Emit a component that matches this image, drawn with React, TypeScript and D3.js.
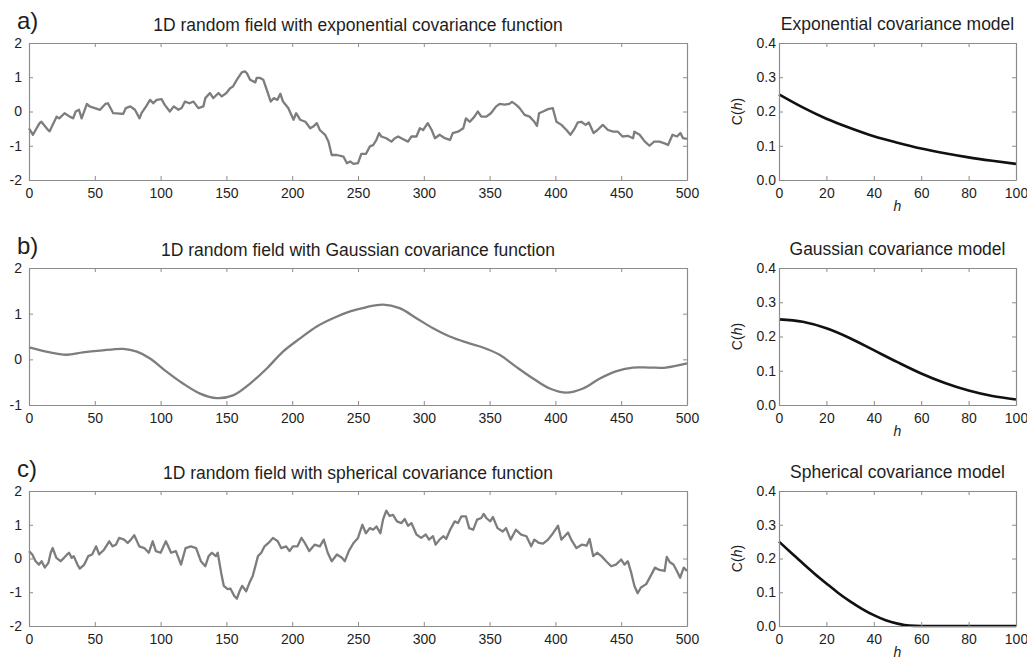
import * as d3 from 'd3';
import React, { useRef, useEffect } from 'react';

// 1D random fields as [x, value]
const expField: [number, number][] = [
  [0, -0.49], [3, -0.68], [8, -0.34], [9.4, -0.3], [14.5, -0.54], [15.7, -0.58], [18, -0.39], [21, -0.15],
  [23, -0.2], [27, -0.05], [31, -0.15], [33.5, -0.2], [35.5, 0], [38, 0.05], [40, -0.2], [44, 0.22],
  [46, 0.15], [50, 0.1], [54, 0.05], [58, 0.22], [60, 0.24], [64, -0.05], [71.5, -0.07], [73.6, 0.1],
  [77, 0.15], [80.5, 0.05], [84, -0.2], [85.5, -0.05], [89, 0.15], [92, 0.34], [94.4, 0.24], [97, 0.34],
  [100.8, 0.36], [103, 0.2], [107, 0], [110, 0.15], [113.5, 0.05], [116, 0.1], [118.5, 0.29], [122, 0.24],
  [125, 0.29], [128.7, 0.1], [132.5, 0.15], [134, 0.39], [137.5, 0.54], [140, 0.39], [144, 0.54], [146.5, 0.44],
  [150, 0.54], [152.8, 0.68], [155, 0.73], [158, 0.93], [161.7, 1.14], [164, 1.17], [165.5, 1.12], [168, 0.93],
  [172, 0.85], [173, 0.98], [175.6, 0.98], [178, 0.93], [180.7, 0.63], [183.7, 0.29], [186, 0.39], [188.8, 0.34],
  [191, 0.52], [193, 0.29], [197, 0.1], [201, -0.24], [203, -0.05], [206, -0.24], [210, -0.3], [213.7, -0.49],
  [216, -0.44], [218.7, -0.34], [221, -0.54], [225, -0.68], [227.6, -0.88], [230, -1.27], [234, -1.27], [239, -1.32],
  [241.6, -1.51], [244, -1.46], [246.7, -1.53], [250, -1.51], [252.5, -1.24], [256, -1.24], [259, -1.02], [261.5, -0.98],
  [264, -0.83], [266, -0.63], [267.7, -0.73], [271.5, -0.78], [275.4, -0.88], [278, -0.78], [280.5, -0.73], [284, -0.8],
  [288, -0.88], [290.6, -0.73], [294.4, -0.73], [297, -0.49], [299.5, -0.54], [303, -0.34], [306, -0.54], [308.5, -0.78],
  [312, -0.68], [316, -0.78], [320, -0.83], [322, -0.63], [326, -0.59], [330, -0.49], [332, -0.2], [335, -0.3],
  [338.5, -0.15], [341, 0], [343.7, -0.15], [347.5, -0.15], [351, -0.05], [355, 0.15], [357.6, 0.22], [361.4, 0.2],
  [365, 0.22], [367, 0.28], [370, 0.2], [372.8, 0.1], [376.6, -0.1], [380.4, -0.15], [384, -0.3], [386, -0.42],
  [387.6, -0.05], [390.6, 0], [394.4, 0.07], [398, 0.1], [400.8, -0.3], [404.6, -0.39], [408.4, -0.54], [411.4, -0.68],
  [414.7, -0.49], [417, -0.32], [419.7, -0.3], [423, -0.39], [425.4, -0.32], [429, -0.63], [432, -0.54], [436, -0.39],
  [440, -0.54], [444, -0.59], [447.5, -0.59], [451, -0.73], [455, -0.71], [459, -0.78], [460, -0.59], [464, -0.68],
  [468, -0.88], [471.5, -1.0], [475, -0.88], [479, -0.88], [483, -0.93], [485.6, -0.98], [489, -0.68], [492.4, -0.73],
  [495, -0.63], [497, -0.78], [500, -0.8],
];

const gaussField: [number, number][] = [
  [0, 0.26], [13, 0.17], [28.4, 0.1], [41, 0.15], [54, 0.19], [71.6, 0.23], [82, 0.17], [92, 0.02],
  [104.5, -0.27], [117, -0.53], [130, -0.75], [142.6, -0.85], [155, -0.79], [168, -0.53], [180.7, -0.2], [193, 0.17],
  [206, 0.46], [218.7, 0.72], [231, 0.9], [244, 1.05], [256, 1.14], [269, 1.2], [281.6, 1.12], [294.4, 0.9],
  [307, 0.68], [319.7, 0.5], [332.4, 0.37], [345, 0.26], [357.6, 0.1], [370, -0.16], [383, -0.42], [395.7, -0.64],
  [408.4, -0.73], [421, -0.64], [433.8, -0.42], [446.5, -0.26], [459, -0.18], [471.5, -0.18], [484, -0.18], [500, -0.09],
];

const sphField: [number, number][] = [
  [0, 0.22], [2.5, 0.12], [5, -0.08], [7.6, -0.18], [9.6, -0.08], [12, -0.27], [14.7, -0.13], [16.5, 0.17],
  [18, 0.31], [20.8, 0.02], [24, -0.08], [26.6, 0.02], [29, 0.12], [30.4, 0.17], [32.5, 0.02], [34, 0.07],
  [36.8, -0.18], [38.6, -0.3], [42, -0.18], [45, 0.07], [48, 0.12], [51, 0.36], [53.3, 0.12], [57, 0.26],
  [61, 0.51], [63.5, 0.36], [66, 0.41], [68.5, 0.61], [72.3, 0.56], [75, 0.46], [77.4, 0.56], [80, 0.69],
  [83.8, 0.36], [87.6, 0.31], [91, 0.17], [94, 0.51], [96.4, 0.22], [100, 0.17], [104, 0.51], [108, 0.17],
  [111.6, 0.22], [115.5, -0.18], [119, 0.31], [123, 0.36], [127, 0.31], [130.6, -0.08], [134, -0.23], [136.5, 0.07],
  [139, 0.17], [142, 0.07], [143.4, 0.17], [146, -0.42], [148, -0.81], [151, -0.91], [153, -0.89], [156, -1.11],
  [158, -1.19], [160, -0.97], [162, -0.81], [165, -0.97], [167.5, -0.72], [170, -0.52], [174, 0.07], [176.5, 0.17],
  [179, 0.36], [182, 0.46], [185.4, 0.61], [189, 0.51], [191.6, 0.31], [195.4, 0.36], [198, 0.22], [200.5, 0.36],
  [204, 0.36], [207, 0.61], [209.6, 0.46], [213, 0.22], [217, 0.41], [221, 0.36], [224, 0.56], [227, 0.17],
  [230, -0.08], [234, 0.12], [237.8, 0.02], [240, -0.08], [243, 0.22], [246.6, 0.46], [250, 0.61], [253.3, 1.0],
  [256, 0.75], [259, 0.9], [261.5, 0.85], [264, 0.95], [267, 0.75], [269, 1.15], [271.5, 1.42], [274, 1.26],
  [276.6, 1.29], [279.6, 1.1], [283, 1.05], [285.5, 1.17], [288, 0.97], [290.6, 1.05], [294.4, 0.71], [298, 0.61],
  [301.5, 0.71], [304, 0.56], [307, 0.66], [309, 0.41], [312, 0.56], [315, 0.66], [317, 0.58], [320, 0.85],
  [323.5, 1.1], [326, 1.05], [328.6, 1.25], [332, 1.25], [334.5, 0.9], [337.5, 0.85], [340.5, 1.15], [343.7, 1.2],
  [345.5, 1.32], [347.5, 1.2], [350.5, 1.1], [352.5, 1.23], [356, 0.9], [360, 0.8], [362.5, 0.9], [366, 0.56],
  [370, 0.85], [374, 0.71], [378, 0.66], [381.6, 0.36], [384, 0.56], [387.6, 0.46], [390.6, 0.44], [394.4, 0.56],
  [398.2, 0.75], [402, 0.97], [404.5, 0.56], [407, 0.66], [409.6, 0.77], [412, 0.56], [416, 0.31], [420, 0.41],
  [423.7, 0.38], [426, 0.58], [428.7, 0.07], [431.7, 0.17], [435, 0.07], [438.6, -0.08], [442.4, -0.23], [446, -0.18],
  [450, -0.03], [452.5, -0.18], [455, -0.08], [457.6, -0.42], [460, -0.81], [462.5, -1.03], [465, -0.86], [469, -0.76],
  [473, -0.47], [475.6, -0.27], [479, -0.34], [483, -0.37], [484.6, 0.05], [487, -0.11], [489.7, -0.18], [492.3, -0.37],
  [494.8, -0.57], [497.5, -0.27], [500, -0.37],
];

const fieldTicksX = [0, 50, 100, 150, 200, 250, 300, 350, 400, 450, 500];
const fieldTicksY = [-2, -1, 0, 1, 2];
const gaussFieldTicksY = [-1, 0, 1, 2];

// covariance models C(h)
const lagH = [0, 10, 20, 30, 40, 50, 60, 70, 80, 90, 100];
const expCov = [0.25, 0.212, 0.179, 0.152, 0.128, 0.109, 0.092, 0.078, 0.066, 0.056, 0.047];
const gaussCov = [0.25, 0.243, 0.224, 0.195, 0.16, 0.125, 0.092, 0.064, 0.042, 0.026, 0.016];
const sphLagH = [0, 5, 10, 15, 20, 25, 30, 35, 40, 45, 50, 55, 60, 70, 80, 90, 100];
const sphCov = [0.25, 0.218, 0.186, 0.155, 0.126, 0.098, 0.073, 0.051, 0.032, 0.017, 0.007, 0.001, 0, 0, 0, 0, 0];

const covTicksX = [0, 20, 40, 60, 80, 100];
const covTicksY = [0, 0.1, 0.2, 0.3, 0.4];

const panelLabels = ['a)', 'b)', 'c)'];
const fieldTitles = [
  '1D random field with exponential covariance function',
  '1D random field with Gaussian covariance function',
  '1D random field with spherical covariance function',
];
const covTitles = ['Exponential covariance model', 'Gaussian covariance model', 'Spherical covariance model'];

const FONT = '"Liberation Sans", Arial, Helvetica, sans-serif';

function App() {
  const ref = useRef<SVGSVGElement>(null);

  useEffect(() => {
    const svg = d3.select(ref.current);
    svg.selectAll('*').remove();

    const rows = [
      { top: 43, bottom: 180 },
      { top: 268, bottom: 405 },
      { top: 491, bottom: 626 },
    ];
    const fieldLeft = 29, fieldRight = 687;
    const covLeft = 779, covRight = 1016;
    const axisColor = '#8c8c8c';
    const textColor = '#1e1e1e';

    const fields = [expField, gaussField, sphField];
    const fieldDomains = [[-2, 2], [-1, 2], [-2, 2]];
    const fieldYTicks = [fieldTicksY, gaussFieldTicksY, fieldTicksY];
    const covs: [number, number][][] = [
      lagH.map((h, i) => [h, expCov[i]]),
      lagH.map((h, i) => [h, gaussCov[i]]),
      sphLagH.map((h, i) => [h, sphCov[i]]),
    ];

    const boxAxes = (g, x, y, xTicks, yTicks, yFmt, yPad) => {
      const [x0, x1] = x.range();
      const [y0, y1] = y.range();
      g.append('g').attr('transform', `translate(0,${y0})`)
        .call(d3.axisBottom(x).tickValues(xTicks).tickSizeInner(-4).tickSizeOuter(0).tickPadding(8)
          .tickFormat(d => String(d)));
      g.append('g').attr('transform', `translate(0,${y1})`)
        .call(d3.axisTop(x).tickValues(xTicks).tickSizeInner(-4).tickSizeOuter(0).tickFormat(() => ''));
      g.append('g').attr('transform', `translate(${x0},0)`)
        .call(d3.axisLeft(y).tickValues(yTicks).tickSizeInner(-4).tickSizeOuter(0).tickPadding(yPad)
          .tickFormat(yFmt));
      g.append('g').attr('transform', `translate(${x1},0)`)
        .call(d3.axisRight(y).tickValues(yTicks).tickSizeInner(-4).tickSizeOuter(0).tickFormat(() => ''));
      g.selectAll('.domain').attr('stroke', axisColor).attr('stroke-width', 1.2);
      g.selectAll('.tick line').attr('stroke', axisColor);
      g.selectAll('text').attr('fill', textColor).attr('font-family', FONT).attr('font-size', 14);
    };

    rows.forEach(({ top, bottom }, i) => {
      // random field panel
      const x = d3.scaleLinear().domain([0, 500]).range([fieldLeft, fieldRight]);
      const y = d3.scaleLinear().domain(fieldDomains[i]).range([bottom, top]);
      const line = d3.line<[number, number]>()
        .x(d => x(d[0]))
        .y(d => y(d[1]))
        .curve(i === 1 ? d3.curveCatmullRom : d3.curveLinear);

      svg.append('path')
        .datum(fields[i])
        .attr('fill', 'none')
        .attr('stroke', '#7d7d7d')
        .attr('stroke-width', 2.3)
        .attr('stroke-linejoin', 'round')
        .attr('d', line);

      svg.append('g').call(g => boxAxes(g, x, y, fieldTicksX, fieldYTicks[i], d => String(d), 7));

      svg.append('text')
        .attr('x', 17).attr('y', top - 14)
        .attr('font-family', FONT).attr('font-size', 24).attr('fill', textColor)
        .text(panelLabels[i]);

      svg.append('text')
        .attr('x', (fieldLeft + fieldRight) / 2).attr('y', top - 12)
        .attr('text-anchor', 'middle')
        .attr('font-family', FONT).attr('font-size', 17.5).attr('fill', textColor)
        .text(fieldTitles[i]);

      // covariance model panel
      const cx = d3.scaleLinear().domain([0, 100]).range([covLeft, covRight]);
      const cy = d3.scaleLinear().domain([0, 0.4]).range([bottom, top]);
      const covLine = d3.line<[number, number]>()
        .x(d => cx(d[0]))
        .y(d => cy(d[1]))
        .curve(d3.curveMonotoneX);

      svg.append('path')
        .datum(covs[i])
        .attr('fill', 'none')
        .attr('stroke', '#111')
        .attr('stroke-width', 2.6)
        .attr('d', covLine);

      svg.append('g').call(g => boxAxes(g, cx, cy, covTicksX, covTicksY, d3.format('.1f'), 3));

      svg.append('text')
        .attr('x', (covLeft + covRight) / 2).attr('y', top - 13)
        .attr('text-anchor', 'middle')
        .attr('font-family', FONT).attr('font-size', 17.5).attr('fill', textColor)
        .text(covTitles[i]);

      const yLab = svg.append('text')
        .attr('transform', `translate(742,${(top + bottom) / 2}) rotate(-90)`)
        .attr('text-anchor', 'middle')
        .attr('font-family', FONT).attr('font-size', 14).attr('fill', textColor);
      yLab.append('tspan').text('C(');
      yLab.append('tspan').attr('font-style', 'italic').text('h');
      yLab.append('tspan').text(')');

      svg.append('text')
        .attr('x', (covLeft + covRight) / 2).attr('y', bottom + 31)
        .attr('text-anchor', 'middle')
        .attr('font-family', FONT).attr('font-size', 14).attr('font-style', 'italic').attr('fill', textColor)
        .text('h');
    });
  }, []);

  return (
    <div style={{ position: 'absolute', left: 0, top: 0, background: '#fff' }}>
      <svg ref={ref} width={1027} height={660}></svg>
    </div>
  );
}

export default App;
